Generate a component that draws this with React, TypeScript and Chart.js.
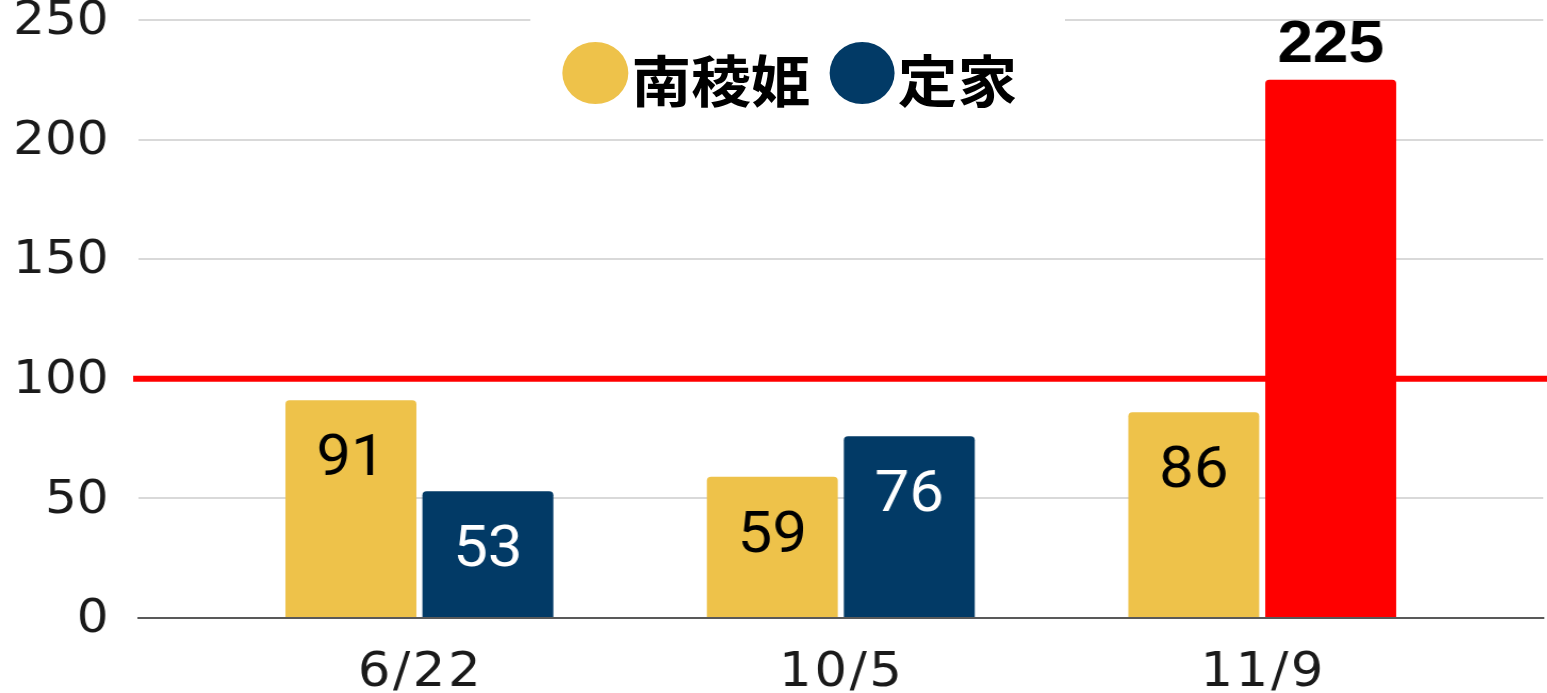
import React, { useEffect, useRef } from "react";
import { Chart, registerables } from "chart.js";

Chart.register(...registerables);

// ---- data ----
const categories = ["6/22", "10/5", "11/9"];
const seriesNames = ["南稜姫", "定家"];
const nanryokiValues = [91, 59, 86];
const teikaValues = [53, 76, 225];
const thresholdValue = 100;
const yTickValues = [0, 50, 100, 150, 200, 250];

// ---- styles ----
const YELLOW = "#EEC24A";
const NAVY = "#023A66";
const RED = "#FF0000";
const teikaColors = [NAVY, NAVY, RED];
const teikaLabelColors = ["#FFFFFF", "#FFFFFF", "#000000"];
const teikaLabelAbove = [false, false, true];

const STRETCH = 1.065;
const W = Math.round(1547 / STRETCH);
const H = 693;

const thresholdPlugin = {
  id: "threshold",
  beforeDatasetsDraw(chart: any) {
    const { ctx, chartArea, scales } = chart;
    const y = scales.y.getPixelForValue(thresholdValue);
    ctx.save();
    ctx.strokeStyle = RED;
    ctx.lineWidth = 6;
    ctx.beginPath();
    ctx.moveTo(chartArea.left - 5, y);
    ctx.lineTo(chart.width, y);
    ctx.stroke();
    ctx.restore();
  },
};

const xLabelPlugin = {
  id: "xLabels",
  afterDraw(chart: any) {
    const { ctx, scales } = chart;
    ctx.save();
    ctx.font = "48px 'DejaVu Sans', sans-serif";
    (ctx as any).letterSpacing = "2.5px";
    ctx.fillStyle = "#1a1a1a";
    ctx.textAlign = "center";
    ctx.textBaseline = "alphabetic";
    categories.forEach((c, i) => {
      const x = scales.x.getPixelForValue(i);
      ctx.fillText(c, x + 1, scales.x.top + 68);
    });
    ctx.restore();
  },
};

const labelPlugin = {
  id: "barLabels",
  afterDatasetsDraw(chart: any) {
    const { ctx } = chart;
    ctx.save();
    ctx.textAlign = "center";
    ctx.textBaseline = "alphabetic";
    chart.data.datasets.forEach((ds: any, di: number) => {
      const meta = chart.getDatasetMeta(di);
      meta.data.forEach((bar: any, i: number) => {
        const v = ds.data[i].y;
        let color = "#000000";
        let above = false;
        if (di === 1) {
          color = teikaLabelColors[i];
          above = teikaLabelAbove[i];
        }
        ctx.fillStyle = color;
        if (above) {
          ctx.font = "bold 60px 'Liberation Sans', Arial, sans-serif";
          ctx.fillText(String(v), bar.x, bar.y - 18);
        } else {
          ctx.font = "58px Roboto, 'Noto Sans', sans-serif";
          ctx.fillText(String(v), bar.x, bar.y + 75);
        }
      });
    });
    ctx.restore();
  },
};

export default function App() {
  const canvasRef = useRef<HTMLCanvasElement | null>(null);

  useEffect(() => {
    document.body.style.margin = "0";
    const canvas = canvasRef.current;
    if (!canvas) return;
    const chart = new Chart(canvas, {
      type: "bar",
      data: {
        datasets: [
          {
            label: seriesNames[0],
            data: nanryokiValues.map((v, i) => ({ x: i, y: v })),
            backgroundColor: YELLOW,
            borderRadius: 4,
            categoryPercentage: 0.65,
            barPercentage: 0.956,
          },
          {
            label: seriesNames[1],
            data: teikaValues.map((v, i) => ({ x: i, y: v })),
            backgroundColor: teikaColors,
            borderRadius: 4,
            categoryPercentage: 0.65,
            barPercentage: 0.956,
          },
        ],
      },
      options: {
        animation: false,
        responsive: false,
        devicePixelRatio: 1,
        layout: { padding: { top: 20, right: 4, left: 0, bottom: 0 } },
        plugins: {
          legend: { display: false },
          tooltip: { enabled: false },
        },
        scales: {
          x: {
            type: "linear",
            offset: false,
            min: -2 / 3,
            max: 8 / 3,
            grid: { display: false, drawTicks: false },
            border: { display: true, color: "#595959", width: 2 },
            ticks: { display: false },
            afterBuildTicks: (s: any) => {
              s.ticks = categories.map((_, i) => ({ value: i }));
            },
            afterFit: (s: any) => {
              s.height = 75;
              s.paddingLeft = 0;
              s.paddingRight = 0;
            },
          },
          y: {
            min: 0,
            max: 250,
            grid: { color: "#D9D9D9", lineWidth: 2, drawTicks: false },
            border: { display: false },
            ticks: {
              font: { family: "'DejaVu Sans'", size: 47, lineHeight: 0.8 },
              color: "#1a1a1a",
              padding: 28,
              labelOffset: 2,
              stepSize: 50,
            },
            afterBuildTicks: (s: any) => {
              s.ticks = yTickValues.map((v) => ({ value: v }));
            },
            afterFit: (s: any) => {
              s.width = 130;
              s.paddingTop = 0;
              s.paddingBottom = 0;
            },
          },
        },
      },
      plugins: [thresholdPlugin, labelPlugin, xLabelPlugin],
    } as any);
    return () => chart.destroy();
  }, []);

  const legendText: React.CSSProperties = {
    position: "absolute",
    fontFamily: "'Noto Sans CJK JP', sans-serif",
    fontWeight: 700,
    fontSize: 56,
    lineHeight: "56px",
    color: "#000",
    whiteSpace: "nowrap",
  };

  return (
    <div
      style={{
        position: "absolute",
        left: 0,
        top: 0,
        width: W,
        height: H,
        background: "#fff",
        transform: `scaleX(${STRETCH})`,
        transformOrigin: "0 0",
        overflow: "hidden",
      }}
    >
      <canvas ref={canvasRef} width={W} height={H} style={{ display: "block" }} />
      <div style={{ position: "absolute", left: 498, top: 8, width: 502, height: 104, background: "#fff" }} />
      <div style={{ position: "absolute", left: 528, top: 42, width: 62, height: 62, borderRadius: "50%", background: YELLOW }} />
      <div style={{ ...legendText, left: 593, top: 50 }}>{seriesNames[0]}</div>
      <div style={{ position: "absolute", left: 779, top: 42, width: 61, height: 62, borderRadius: "50%", background: NAVY }} />
      <div style={{ ...legendText, left: 843, top: 50 }}>{seriesNames[1]}</div>
    </div>
  );
}
